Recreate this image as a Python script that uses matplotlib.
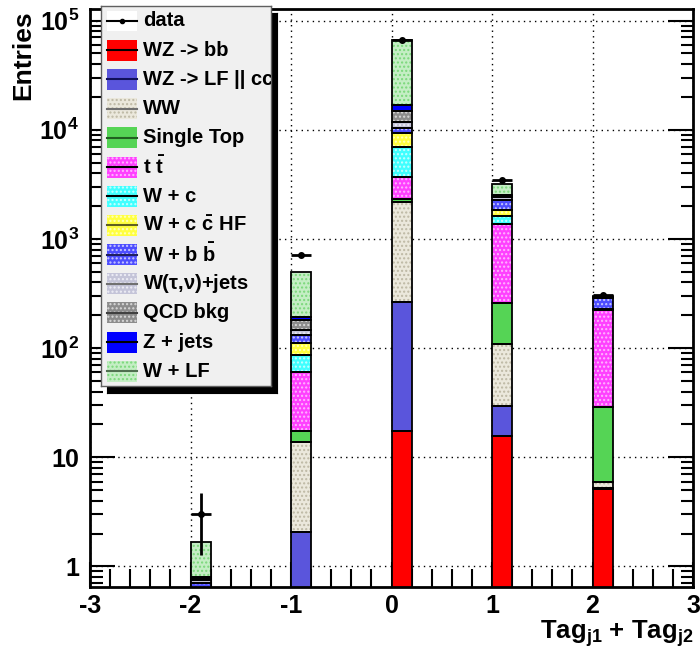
import numpy as np
import matplotlib
matplotlib.use('Agg')
import matplotlib.pyplot as plt
import matplotlib.patches as mpatches
from matplotlib.ticker import FixedLocator, NullFormatter, LogLocator, MultipleLocator

plt.rcParams['font.family'] = ['Liberation Sans', 'DejaVu Sans']
plt.rcParams['font.weight'] = 'bold'
plt.rcParams['mathtext.fontset'] = 'custom'
plt.rcParams['mathtext.rm'] = 'Liberation Sans:bold'
plt.rcParams['mathtext.it'] = 'Liberation Sans:bold'
plt.rcParams['mathtext.bf'] = 'Liberation Sans:bold'
plt.rcParams['hatch.linewidth'] = 1.0

# bins (left edges) of Tag_j1 + Tag_j2
bins = np.array([-2.0, -1.0, 0.0, 1.0, 2.0])
bin_width = 0.2

# stacked backgrounds, bottom -> top
wz_bb   = [0.0, 0.3, 17.3, 15.7, 5.1]
wz_lf   = [0.0, 1.75, 250, 13.6, 0.1]
ww      = [0.0, 11.85, 1921, 80, 0.74]
stop    = [0.0, 3.6, 156, 150, 22.7]
ttbar   = [0.0, 43, 1372, 1106, 193]
w_c     = [0.25, 25.6, 3264, 251, 3]
w_cc    = [0.2, 25.5, 2270, 217, 2]
w_bb    = [0.26, 21.4, 1050, 463, 64]
w_tau   = [0.045, 15, 1560, 134, 2]
qcd     = [0.02, 34, 3000, 84, 3]
z_jets  = [0.025, 12.5, 1840, 38, 1]
w_lf    = [0.86, 300, 49600, 640, 3]

data = np.array([3, 710, 66500, 3500, 305])

labels = ['WZ -> bb', 'WZ -> LF || cc', 'WW', 'Single Top', r'$\mathbf{t}\ \bar{\mathbf{t}}$',
          'W + c', r'W + c $\bar{\mathrm{c}}$ HF', r'W + b $\bar{\mathrm{b}}$',
          r'W($\tau$,$\nu$)+jets', 'QCD bkg', 'Z + jets', 'W + LF']
series = [wz_bb, wz_lf, ww, stop, ttbar, w_c, w_cc, w_bb, w_tau, qcd, z_jets, w_lf]
# (face colour, hatch colour, hatch, legend line colour)
styles = [('#ff0000', None, None, 'black'),
          ('#5a55dc', None, None, '#10105a'),
          ('#ebe8dc', '#bdb8a4', '....', '#707070'),
          ('#55d455', None, None, '#206020'),
          ('#ff40ff', '#ffb8ff', '....', 'black'),
          ('#40ffff', '#c8ffff', '....', 'black'),
          ('#ffff40', '#ffffc0', '....', '#606020'),
          ('#4d4dff', '#c8c8ff', '....', '#202060'),
          ('#c4c4d8', '#eeeef6', '....', '#707070'),
          ('#8c8c8c', '#d8d8d8', '....', '#404040'),
          ('#0000ff', None, None, 'black'),
          ('#c4eec4', '#7ad87a', '....', '#507050')]

fig = plt.figure(figsize=(7, 6.53), dpi=100)
ax = fig.add_axes([90/700, 1-587/653, 603/700, 578.5/653])
ax.set_yscale('log')
ax.set_xlim(-3, 3)
ax.set_ylim(0.649, 1.29e5)

bottom = np.zeros(len(bins))
for vals, (fc, hc, hatch, lc) in zip(series, styles):
    vals = np.array(vals, dtype=float)
    if hatch:
        ax.bar(bins, vals, bin_width, bottom=bottom, align='edge', color=fc,
               edgecolor=hc, hatch=hatch, linewidth=0, zorder=2)
    else:
        ax.bar(bins, vals, bin_width, bottom=bottom, align='edge', color=fc,
               linewidth=0, zorder=2)
    ax.bar(bins, vals, bin_width, bottom=bottom, align='edge', fill=False,
           edgecolor='black', linewidth=1.3, zorder=3)
    bottom = bottom + vals

ax.errorbar(bins + bin_width/2, data, yerr=np.sqrt(data), xerr=bin_width/2,
            fmt='o', color='black', markersize=4, elinewidth=2, capsize=0, zorder=5)

# axes style
for s in ax.spines.values():
    s.set_linewidth(2)
ax.xaxis.set_major_locator(MultipleLocator(1))
ax.xaxis.set_minor_locator(MultipleLocator(0.2))
ax.yaxis.set_major_locator(FixedLocator([1, 10, 1e2, 1e3, 1e4, 1e5]))
ax.yaxis.set_minor_locator(LogLocator(base=10, subs=np.arange(2, 10)))
ax.yaxis.set_minor_formatter(NullFormatter())
ax.set_yticklabels(['1', '10', '$10^{2}$', '$10^{3}$', '$10^{4}$', '$10^{5}$'])
ax.set_xticks([-3, -2, -1, 0, 1, 2, 3])
ax.set_xticklabels(['-3', '-2', '-1', '0', '1', '2', '3'])
ax.tick_params(axis='y', which='major', direction='in', length=18, width=1.5,
               right=True, labelsize=18, pad=8)
ax.tick_params(axis='y', which='minor', direction='in', length=9, width=1.5, right=True)
ax.tick_params(axis='x', which='major', direction='in', length=18, width=1.5,
               labelsize=18, pad=5)
ax.tick_params(axis='x', which='minor', direction='in', length=13, width=1.5)
ax.grid(True, which='major', linestyle=(0, (1, 3)), color='black', linewidth=1)
ax.set_axisbelow(True)

fig.text(0.033, 1-10/653, 'Entries', rotation=90, ha='center', va='top', fontsize=19)
fig.text(693/700, 1-639/653, r'Tag$_{\mathrm{j1}}$ + Tag$_{\mathrm{j2}}$', ha='right',
         va='baseline', fontsize=18.5)

# legend box with shadow
shadow = fig.add_axes([107/700, 1-393/653, 170/700, 380/653])
shadow.set_facecolor('black')
shadow.set_xticks([]); shadow.set_yticks([])
leg = fig.add_axes([101/700, 1-386/653, 170/700, 380/653])
leg.set_facecolor('#f0f0f0')
leg.set_xlim(101, 271)
leg.set_ylim(386, 6)
leg.set_xticks([]); leg.set_yticks([])
for s in leg.spines.values():
    s.set_linewidth(1)
    s.set_color('#606060')

def swatch(y, fc, hc, hatch):
    if hatch:
        leg.add_patch(mpatches.Rectangle((107, y-10.5), 30, 21, facecolor=fc,
                                         edgecolor=hc, hatch=hatch, linewidth=0))
    else:
        leg.add_patch(mpatches.Rectangle((107, y-10.5), 30, 21, facecolor=fc,
                                         linewidth=0))

y0 = 21
swatch(y0, 'white', None, None)
leg.plot([107, 137], [y0, y0], color='black', lw=1.5)
leg.plot([122], [y0], 'o', color='black', markersize=3)
leg.text(143, y0, 'data', va='center', ha='left', fontsize=14.5, clip_on=True)
for i, (lab, (fc, hc, hatch, lc)) in enumerate(zip(labels, styles)):
    y = y0 + 29.2 * (i + 1)
    swatch(y, fc, hc, hatch)
    leg.plot([107, 137], [y, y], color=lc, lw=1.5)
    leg.text(143, y, lab, va='center', ha='left', fontsize=14.5, clip_on=True)

fig.savefig('out.png', dpi=100)
